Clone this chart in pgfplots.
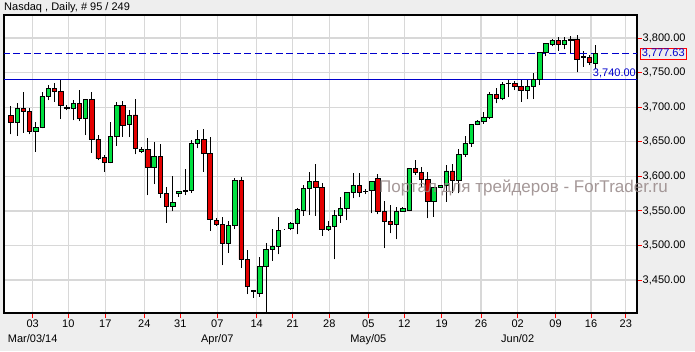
\documentclass[border=0pt]{standalone}
\usepackage{fontspec}
\setmainfont{Liberation Sans}
\usepackage{pgfplots}
\usepackage{pgfplotstable}
\pgfplotsset{compat=1.18}
\definecolor{bggray}{RGB}{238,238,238}
\definecolor{gridgray}{RGB}{216,216,216}
\definecolor{cgreen}{RGB}{0,224,64}
\definecolor{cred}{RGB}{228,0,0}
\definecolor{lblue}{RGB}{0,0,205}
\definecolor{wm}{RGB}{150,135,135}

\pgfplotstableread{
k o h l c
0 3688.6 3701.6 3660.7 3678.0
1 3678.0 3705.5 3658.7 3698.3
2 3698.3 3721.4 3663.1 3693.4
3 3693.4 3698.3 3660.7 3664.5
4 3664.5 3678.0 3635.6 3670.8
5 3670.3 3721.4 3669.3 3715.1
6 3715.1 3732.0 3710.3 3727.2
7 3727.2 3734.4 3707.9 3722.4
8 3723.3 3739.2 3682.8 3702.1
9 3699.0 3703.1 3695.8 3698.5
10 3698.3 3710.3 3681.4 3705.5
11 3705.5 3724.8 3679.9 3683.8
12 3683.8 3711.3 3659.7 3711.3
13 3711.3 3721.4 3634.1 3653.4
14 3653.4 3659.7 3623.5 3625.5
15 3627.4 3630.8 3606.7 3620.2
16 3620.2 3678.0 3618.7 3657.3
17 3657.3 3707.9 3644.3 3703.1
18 3703.1 3708.9 3657.3 3674.2
19 3675.1 3696.0 3656.5 3688.2
20 3688.7 3711.8 3631.8 3640.4
21 3635.6 3641.8 3634.1 3638.9
22 3639.0 3654.9 3572.9 3612.9
23 3612.9 3650.0 3588.8 3628.8
24 3628.8 3646.2 3569.0 3575.3
25 3575.3 3584.9 3532.9 3556.0
26 3556.0 3600.4 3549.8 3562.3
27 3574.8 3578.2 3570.5 3578.2
28 3577.7 3610.5 3572.9 3579.0
29 3579.2 3652.4 3576.3 3647.6
30 3647.6 3666.9 3640.4 3653.4
31 3653.4 3667.9 3606.6 3633.2
32 3633.2 3656.3 3521.3 3537.7
33 3536.7 3539.1 3528.5 3530.5
34 3530.5 3541.6 3471.6 3503.0
35 3503.0 3535.3 3489.5 3529.5
36 3528.5 3598.0 3523.7 3594.6
37 3594.6 3599.0 3467.8 3479.9
38 3479.9 3493.3 3429.7 3440.3
39 3434.5 3435.0 3424.0 3434.0
40 3431.0 3483.7 3425.9 3470.0
41 3470.0 3504.0 3395.0 3494.4
42 3494.4 3523.5 3478.0 3499.2
43 3499.2 3541.0 3487.0 3522.2
44 3523.8 3524.3 3523.3 3523.8
45 3524.8 3534.3 3522.3 3532.0
46 3532.0 3554.0 3516.0 3552.5
47 3551.0 3587.4 3543.0 3582.5
48 3582.5 3606.2 3544.0 3592.7
49 3592.7 3617.7 3543.0 3584.0
50 3584.0 3589.8 3514.0 3523.3
51 3523.3 3535.4 3521.0 3527.5
52 3527.5 3551.3 3480.0 3544.0
53 3543.8 3570.0 3533.0 3553.7
54 3553.7 3577.8 3536.8 3576.8
55 3576.8 3604.3 3568.2 3587.4
56 3587.4 3604.3 3569.6 3576.8
57 3578.0 3581.7 3574.4 3577.5
58 3579.2 3593.7 3546.5 3592.3
59 3597.0 3603.5 3545.0 3549.3
60 3549.3 3564.8 3496.0 3534.4
61 3535.0 3558.5 3517.5 3530.5
62 3530.5 3555.1 3508.8 3549.8
63 3549.8 3556.1 3548.8 3553.6
64 3551.2 3612.5 3549.8 3611.5
65 3611.5 3623.5 3601.9 3605.2
66 3605.7 3613.0 3585.0 3595.6
67 3595.6 3606.7 3539.2 3563.3
68 3563.3 3584.0 3541.6 3584.0
69 3584.0 3588.0 3583.0 3587.0
70 3586.5 3616.3 3563.3 3607.7
71 3607.7 3617.8 3575.4 3594.6
72 3594.6 3640.0 3575.4 3631.8
73 3631.8 3658.3 3628.0 3647.7
74 3647.7 3675.2 3642.9 3675.2
75 3675.2 3681.0 3674.0 3680.0
76 3679.0 3692.5 3676.0 3685.3
77 3684.5 3721.4 3682.4 3718.2
78 3718.2 3728.2 3705.5 3712.8
79 3712.8 3736.8 3710.3 3732.5
80 3734.6 3739.2 3714.1 3734.2
81 3734.4 3737.8 3724.8 3730.5
82 3729.6 3739.2 3707.9 3723.8
83 3723.8 3739.2 3711.7 3730.5
84 3730.5 3748.9 3711.7 3740.2
85 3740.2 3780.2 3732.0 3778.8
86 3778.8 3793.2 3773.9 3792.3
87 3791.3 3799.0 3788.0 3797.1
88 3796.1 3800.9 3781.6 3791.3
89 3790.8 3801.9 3783.6 3797.1
90 3797.3 3802.9 3777.8 3796.9
91 3798.0 3804.3 3750.3 3769.1
92 3773.0 3781.0 3758.5 3772.5
93 3772.5 3775.4 3760.9 3764.3
94 3764.0 3789.8 3754.5 3777.63
}\candles

\begin{document}
\begin{tikzpicture}[x=1pt,y=1pt]
\fill[bggray] (0,0) rectangle (695,351);
\pgfplotsset{
  cbase/.style={scale only axis, width=633pt, height=298pt, at={(4pt,38pt)}, anchor=south west,
    xmin=-1.125, xmax=100.64, ymin=3402.3, ymax=3833.3, enlargelimits=false}
}
\begin{axis}[cbase,
  axis background/.style={fill=white},
  axis line style={black, line width=1.3pt},
  xtick={3.49,9.21,15.16,21.43,27.22,33.17,39.5,45.29,51.17,57.44,63.23,69.24,75.56,81.46,87.55,93.25,98.83},
  xticklabels={03\\Mar/03/14,10,17,24,31,07\\Apr/07,14,21,28,05\\May/05,12,19,26,02\\Jun/02,09,16,23},
  ytick={3450,3500,3550,3600,3650,3700,3750,3800},
  xtick pos=bottom, ytick pos=right,
  tick align=outside,
  major tick length=4.5pt,
  major tick style={red, line width=1pt},
  xmajorgrids, ymajorgrids,
  grid style={draw=gridgray, line width=1.3pt},
  scaled y ticks=false,
  /pgf/number format/assume math mode=true,
  yticklabel style={inner xsep=1pt, /pgf/number format/fixed, /pgf/number format/fixed zerofill, /pgf/number format/precision=2, /pgf/number format/1000 sep={,}},
  tick label style={font=\fontsize{11}{15.5}\selectfont},
  xticklabel style={align=center, inner ysep=2pt},
]
\addplot[only marks, mark=*, mark size=0pt, mark options={draw=none, fill=none}, error bars/.cd, y dir=plus, y explicit, error mark=none,
  error bar style={draw=black, solid, line width=1pt}]
  table[x=k, y=l, y error expr={\thisrow{h}-\thisrow{l}}] {\candles};
\addplot[lblue, line width=1pt] coordinates {(-3,3740) (103,3740)};
\addplot[lblue, line width=1pt, dash pattern=on 7pt off 3.5pt] coordinates {(-3,3777.63) (103,3777.63)};
\end{axis}
\begin{axis}[cbase, hide axis, ybar stacked, bar width=0.7]
\addplot[draw=none, fill=none] table[x=k, y expr={min(\thisrow{o},\thisrow{c})}] {\candles};
\addplot[fill=cgreen, draw=black, line width=0.8pt] table[x=k, y expr={max(\thisrow{c}-\thisrow{o},0)}] {\candles};
\addplot[fill=cred, draw=black, line width=0.8pt] table[x=k, y expr={max(\thisrow{o}-\thisrow{c},0)}] {\candles};
\end{axis}
\node[anchor=base west, inner sep=0pt, font=\fontsize{11}{13}\selectfont] at (4,340) {Nasdaq , Daily, \# 95 / 249};
\node[anchor=base east, inner sep=0pt, text=lblue, font=\fontsize{11}{13}\selectfont] at (636,274.3) {3,740.00};
\node[anchor=west, draw=red, line width=0.8pt, inner xsep=1.5pt, inner ysep=1pt, text=lblue, font=\fontsize{11}{13}\selectfont] at (640,297.3) {3,777.63};
\node[anchor=base west, inner sep=0pt, text=wm, opacity=0.85, font=\fontsize{17}{20}\selectfont] at (379,158.3) {Портал для трейдеров - ForTrader.ru};
\pgfresetboundingbox
\useasboundingbox (0,0) rectangle (695,351);
\end{tikzpicture}
\end{document}
